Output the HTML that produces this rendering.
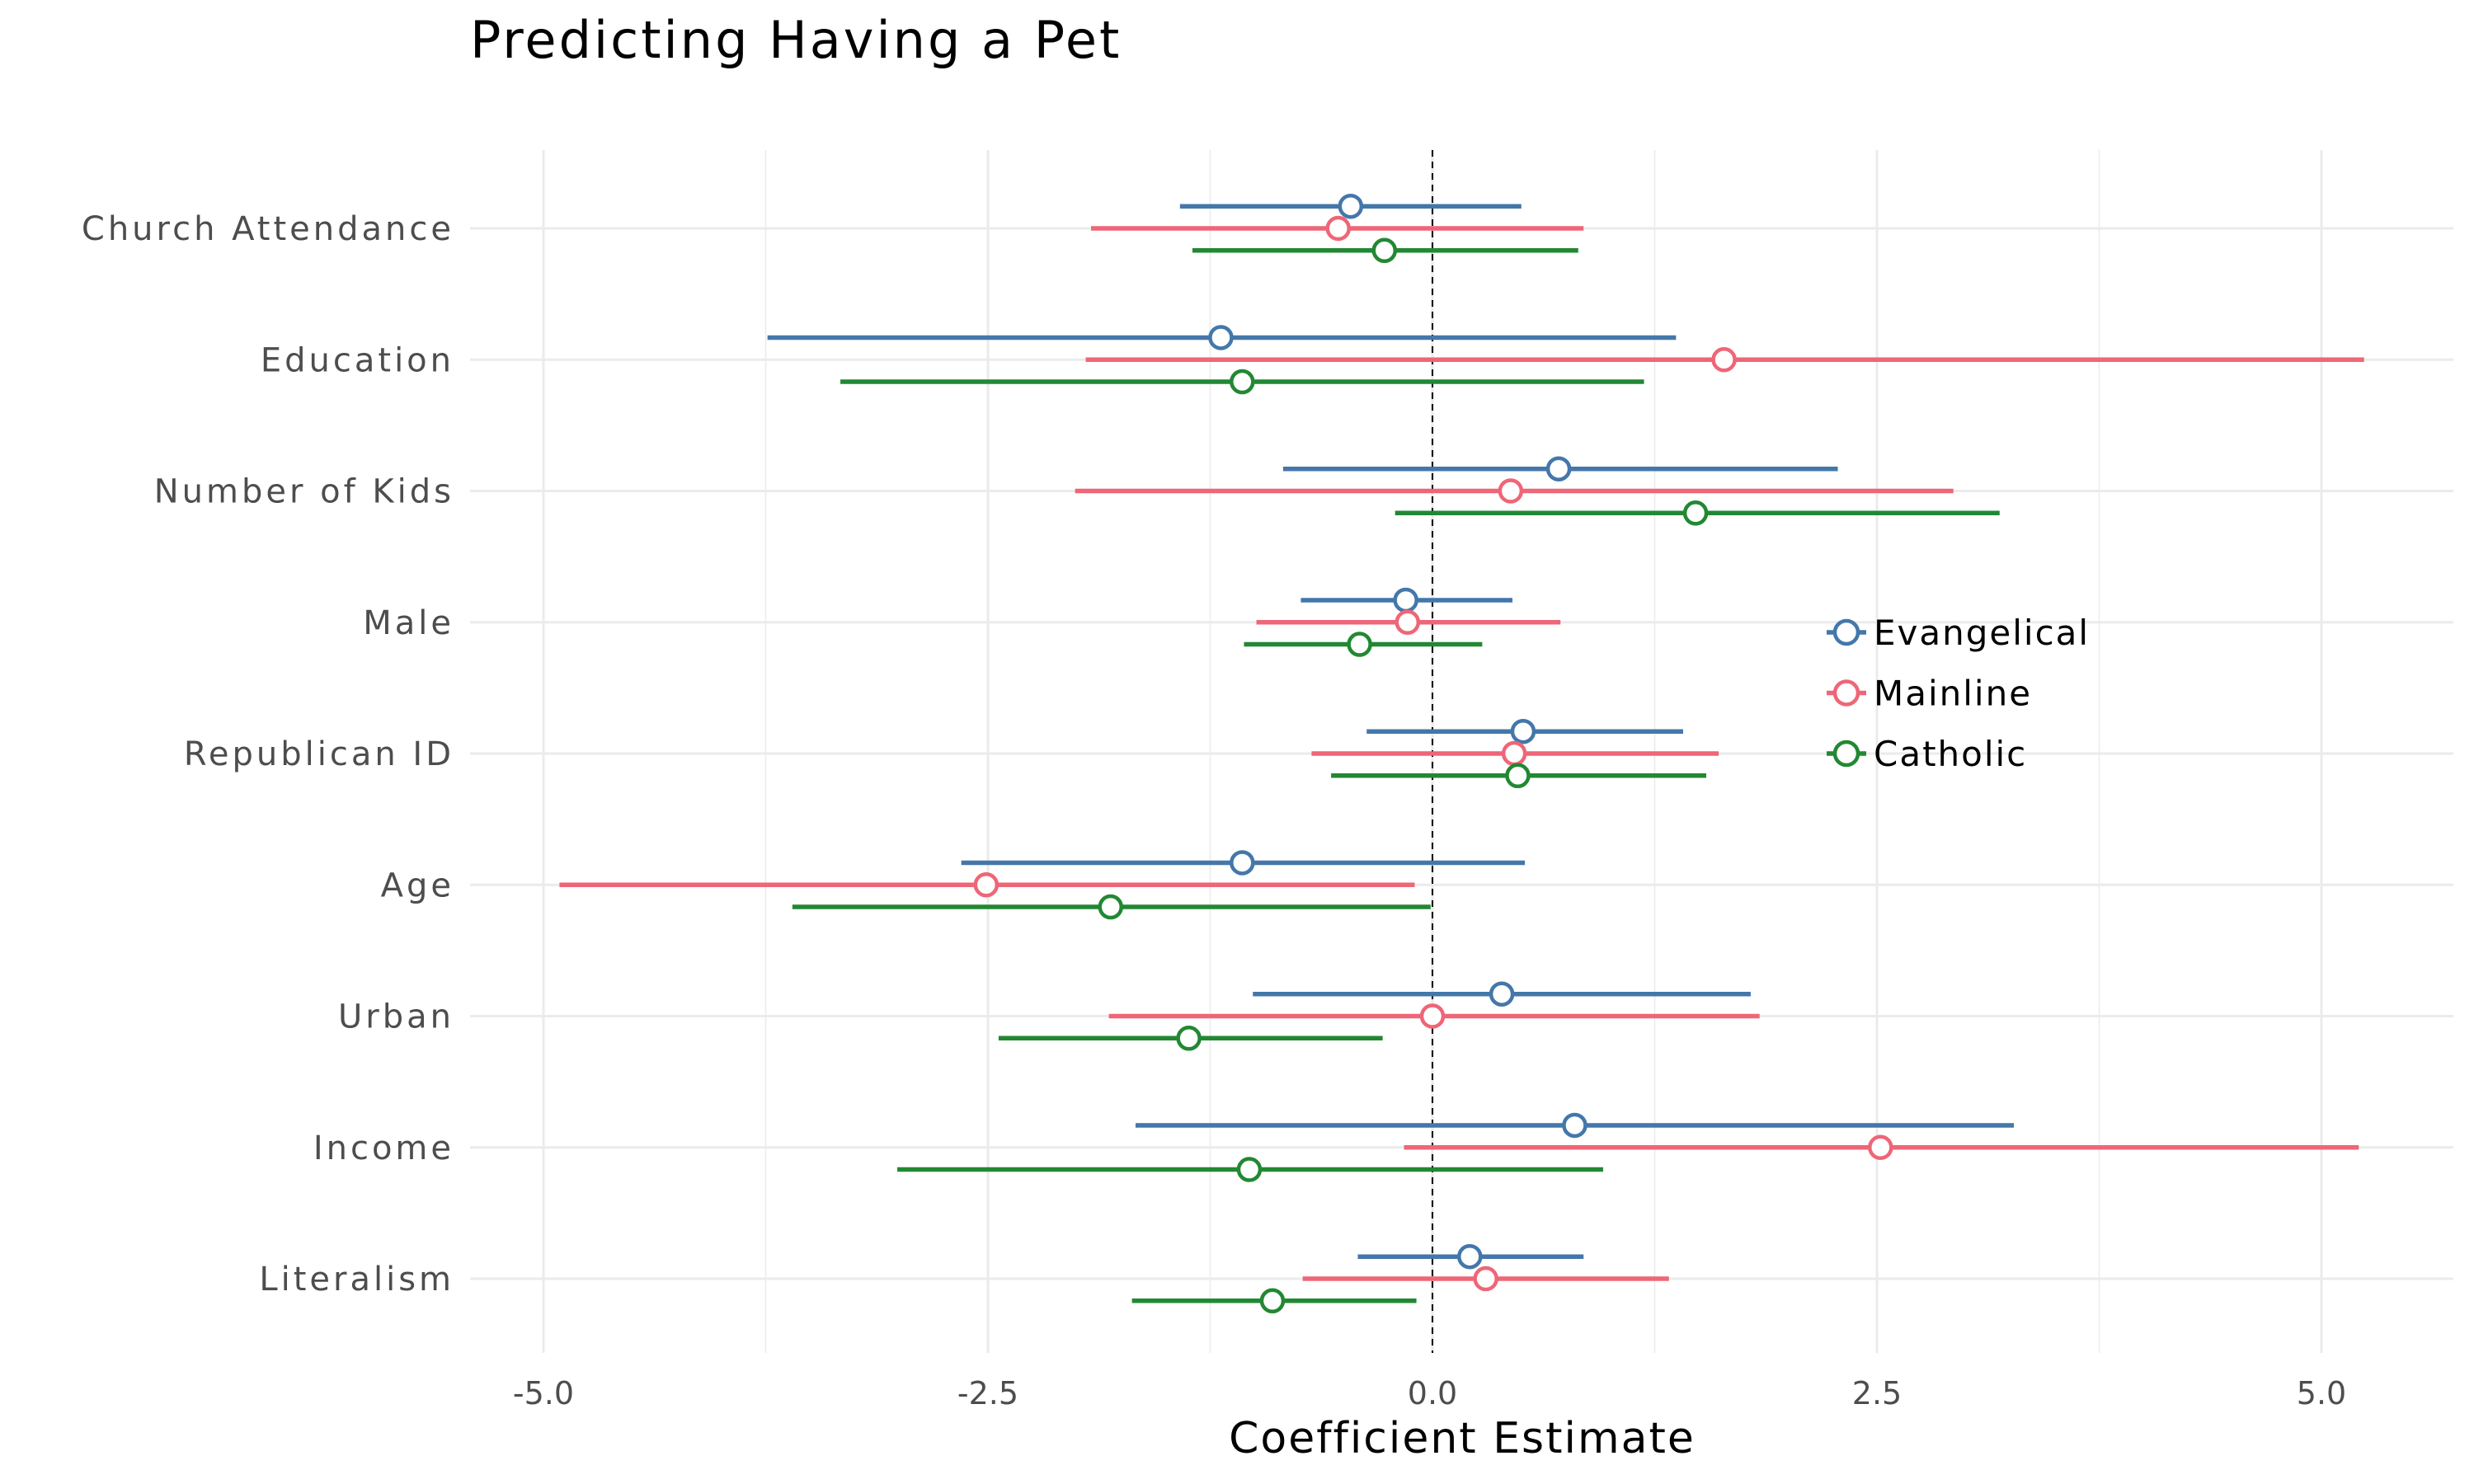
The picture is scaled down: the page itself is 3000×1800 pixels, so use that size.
<!DOCTYPE html>
<html><head><meta charset="utf-8"><style>
html,body{margin:0;padding:0;background:#fff;}
svg{display:block;font-family:"DejaVu Sans","Liberation Sans",sans-serif;}
</style></head><body>
<svg id="chart" width="3000" height="1800" viewBox="0 0 3000 1800">
<text x="570" y="70" font-size="62" letter-spacing="3" fill="#000">Predicting Having a Pet</text>
<g id="grid"></g><g id="marks"></g><g id="labels"></g>
<text x="1773" y="1762" font-size="52" letter-spacing="2" text-anchor="middle" fill="#000">Coefficient Estimate</text>
<g id="legend"></g>
</svg>
<script>
const categories=["Church Attendance","Education","Number of Kids","Male","Republican ID","Age","Urban","Income","Literalism"];
const seriesNames=["Evangelical","Mainline","Catholic"];
const seriesColors=["#4477AA","#EE6677","#228833"];
const evEst=[-0.46,-1.19,0.71,-0.15,0.51,-1.07,0.39,0.80,0.21];
const evLo=[-1.42,-3.74,-0.84,-0.74,-0.37,-2.65,-1.01,-1.67,-0.42];
const evHi=[0.50,1.37,2.28,0.45,1.41,0.52,1.79,3.27,0.85];
const mlEst=[-0.53,1.64,0.44,-0.14,0.46,-2.51,0.0,2.52,0.30];
const mlLo=[-1.92,-1.95,-2.01,-0.99,-0.68,-4.91,-1.82,-0.16,-0.73];
const mlHi=[0.85,5.24,2.93,0.72,1.61,-0.10,1.84,5.21,1.33];
const caEst=[-0.27,-1.07,1.48,-0.41,0.48,-1.81,-1.37,-1.03,-0.90];
const caLo=[-1.35,-3.33,-0.21,-1.06,-0.57,-3.60,-2.44,-3.01,-1.69];
const caHi=[0.82,1.19,3.19,0.28,1.54,-0.01,-0.28,0.96,-0.09];
const xTicks=[-5,-2.5,0,2.5,5];
const xTickLabels=["-5.0","-2.5","0.0","2.5","5.0"];
const xMinor=[-3.75,-1.25,1.25,3.75];

const NS="http://www.w3.org/2000/svg";
const X=v=>1737+v*215.6;
const Y=i=>277+i*159.25;
const OFF=[-26.8,0,26.8];
function mk(tag,attrs,parent){const e=document.createElementNS(NS,tag);for(const k in attrs)e.setAttribute(k,attrs[k]);parent.appendChild(e);return e;}
const grid=document.getElementById('grid'),marks=document.getElementById('marks'),labels=document.getElementById('labels'),legend=document.getElementById('legend');
xMinor.forEach(v=>{const l=mk('line',{x1:X(v),x2:X(v),y1:182,y2:1641,stroke:'#ebebeb','stroke-width':1.5},grid);

});
xTicks.forEach((v,i)=>{const l=mk('line',{x1:X(v),x2:X(v),y1:182,y2:1641,stroke:'#ebebeb','stroke-width':3},grid);


const t=mk('text',{x:X(v),y:1703,'font-size':38,'text-anchor':'middle',fill:'#4d4d4d'},labels);t.textContent=xTickLabels[i];

});
categories.forEach((c,i)=>{const l=mk('line',{x1:570,x2:2975,y1:Y(i),y2:Y(i),stroke:'#ebebeb','stroke-width':3},grid);


const t=mk('text',{x:551,y:Y(i)+14,'font-size':40,'letter-spacing':4,'text-anchor':'end',fill:'#4d4d4d'},labels);t.textContent=c;

});
const zl=mk('line',{x1:X(0),x2:X(0),y1:182,y2:1641,stroke:'#000','stroke-width':2,'stroke-dasharray':'8,6'},grid);


const S=[[evEst,evLo,evHi],[mlEst,mlLo,mlHi],[caEst,caLo,caHi]];
S.forEach((s,k)=>{categories.forEach((c,i)=>{const y=Y(i)+OFF[k];
const b=mk('line',{x1:X(s[1][i]),x2:X(s[2][i]),y1:y,y2:y,stroke:seriesColors[k],'stroke-width':5.5},marks);


const p=mk('circle',{cx:X(s[0][i]),cy:y,r:13,fill:'#fff',stroke:seriesColors[k],'stroke-width':4.5},marks);

});});
seriesNames.forEach((n,k)=>{const y=767+k*73.5;
const l=mk('line',{x1:2215,x2:2263,y1:y,y2:y,stroke:seriesColors[k],'stroke-width':5.5},legend);


const c=mk('circle',{cx:2239,cy:y,r:14,fill:'#fff',stroke:seriesColors[k],'stroke-width':4.5},legend);


const t=mk('text',{x:2272,y:y+15,'font-size':42,'letter-spacing':2,fill:'#000'},legend);t.textContent=n;

});
</script>
</body></html>
